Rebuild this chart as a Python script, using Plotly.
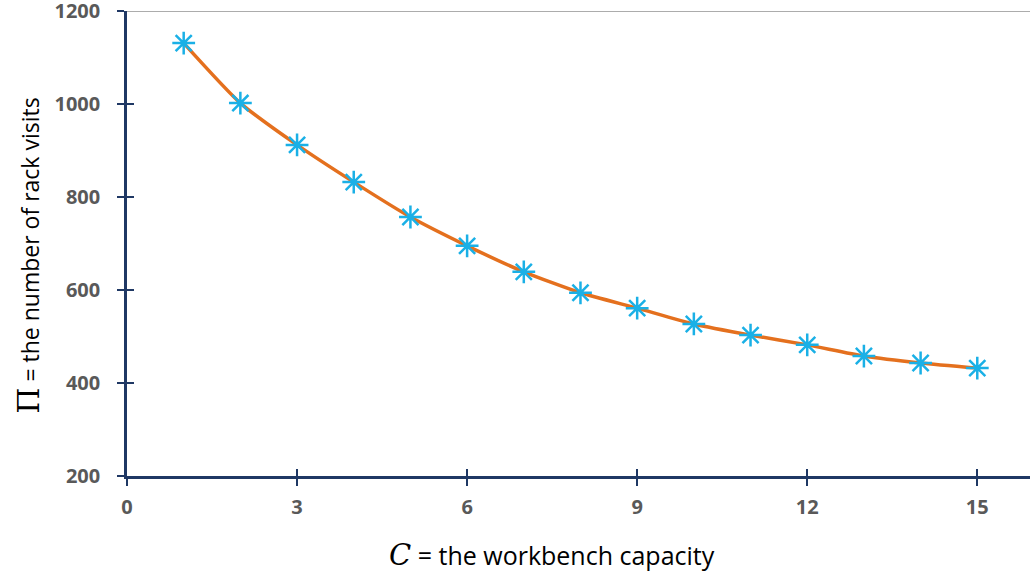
import plotly.graph_objects as go

capacity = [1, 2, 3, 4, 5, 6, 7, 8, 9, 10, 11, 12, 13, 14, 15]
rack_visits = [1131, 1002, 912, 832, 757, 695, 639, 594, 561, 527, 503, 482, 458, 443, 432]
x_ticks = [0, 3, 6, 9, 12, 15]
y_ticks = [200, 400, 600, 800, 1000, 1200]

NAVY = "#1F3864"
TICKFONT = dict(family="Open Sans", size=20, color="#595959", weight="bold")
X_RANGE = [0, 15.93]
Y_RANGE = [200, 1200]

fig = go.Figure()
fig.add_trace(go.Scatter(
    x=capacity, y=rack_visits, mode="lines",
    line=dict(color="#E4701E", width=3.5, shape="spline", smoothing=0.6),
    showlegend=False, hoverinfo="skip"))
fig.add_trace(go.Scatter(
    x=capacity, y=rack_visits, mode="markers",
    marker=dict(symbol="asterisk-open", size=19, color="#1AB0E6",
                line=dict(color="#1AB0E6", width=2.5)),
    showlegend=False))
fig.add_trace(go.Scatter(x=[None], y=[None], xaxis="x2", yaxis="y2", showlegend=False))

fig.update_layout(
    width=1030, height=580,
    margin=dict(l=127, r=0, t=11, b=104),
    paper_bgcolor="white", plot_bgcolor="white",
    xaxis=dict(range=X_RANGE, tickvals=x_ticks, ticktext=[str(v) for v in x_ticks],
               showgrid=False, zeroline=False, showline=True, linecolor=NAVY, linewidth=2.5,
               ticks="outside", ticklen=7, tickwidth=2, tickcolor=NAVY, automargin=False,
               ticklabelstandoff=4, ticklabeloverflow="allow", tickfont=TICKFONT),
    yaxis=dict(range=Y_RANGE, tickvals=y_ticks, ticktext=[str(v) for v in y_ticks],
               showgrid=False, zeroline=False, showline=True, linecolor=NAVY, linewidth=2.5,
               ticks="outside", ticklen=7, tickwidth=2, tickcolor=NAVY, automargin=False,
               ticklabelstandoff=13, ticklabeloverflow="allow", tickfont=TICKFONT),
    xaxis2=dict(range=X_RANGE, overlaying="x", tickvals=x_ticks, showticklabels=False,
                showgrid=False, zeroline=False, showline=False, automargin=False,
                ticks="inside", ticklen=7, tickwidth=2, tickcolor=NAVY),
    yaxis2=dict(range=Y_RANGE, overlaying="y", tickvals=y_ticks, showticklabels=False,
                showgrid=False, zeroline=False, showline=False, automargin=False,
                ticks="inside", ticklen=7, tickwidth=2, tickcolor=NAVY),
)
fig.add_shape(type="line", xref="paper", yref="y", x0=0, x1=1, y0=1200, y1=1200,
              line=dict(color="#909090", width=1.5), layer="below")

fig.add_annotation(
    xref="paper", yref="paper", x=0.471, y=-0.17, xanchor="center", yanchor="middle",
    text="<span style='font-family:DejaVu Serif;font-size:29px'><i>C</i></span> = the workbench capacity",
    showarrow=False, font=dict(family="Open Sans", size=25, color="black"))
fig.add_annotation(
    xref="paper", yref="paper", x=-0.11, y=0.473, xanchor="center", yanchor="middle",
    textangle=-90,
    text="<span style='font-family:DejaVu Serif;font-size:30px'>Π</span> = the number of rack visits",
    showarrow=False, font=dict(family="Open Sans", size=23, color="black"))

fig.write_html("out.html", config={"displayModeBar": False},
               post_script="document.body.style.margin='0';")
